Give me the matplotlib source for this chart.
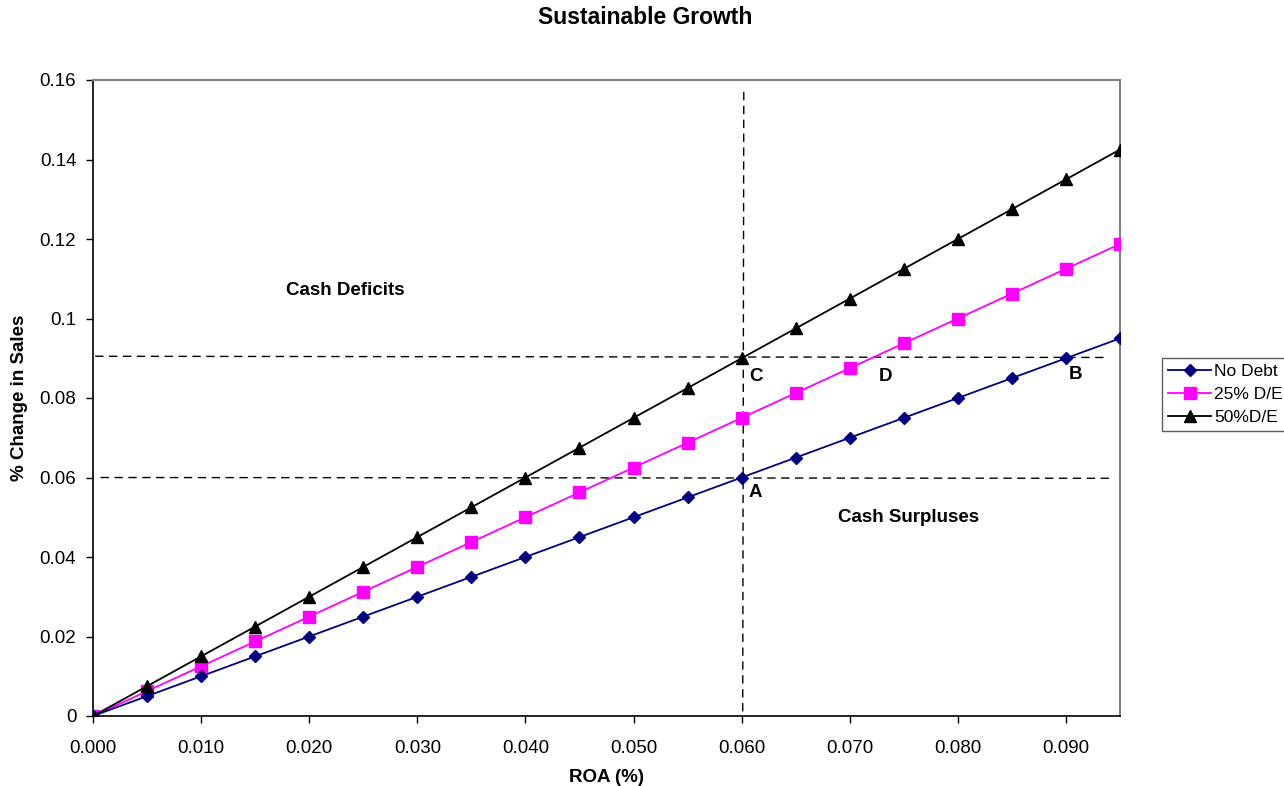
import matplotlib
matplotlib.use("Agg")
import matplotlib.pyplot as plt

plt.rcParams['font.family'] = ['Liberation Sans', 'DejaVu Sans']

roa = [0.000, 0.005, 0.010, 0.015, 0.020, 0.025, 0.030, 0.035, 0.040, 0.045,
       0.050, 0.055, 0.060, 0.065, 0.070, 0.075, 0.080, 0.085, 0.090, 0.095]
no_debt = [0.0, 0.005, 0.010, 0.015, 0.020, 0.025, 0.030, 0.035, 0.040, 0.045,
           0.050, 0.055, 0.060, 0.065, 0.070, 0.075, 0.080, 0.085, 0.090, 0.095]
de_25 = [0.0, 0.00625, 0.0125, 0.01875, 0.025, 0.03125, 0.0375, 0.04375, 0.050, 0.05625,
         0.0625, 0.06875, 0.075, 0.08125, 0.0875, 0.09375, 0.100, 0.10625, 0.1125, 0.11875]
de_50 = [0.0, 0.0075, 0.015, 0.0225, 0.030, 0.0375, 0.045, 0.0525, 0.060, 0.0675,
         0.075, 0.0825, 0.090, 0.0975, 0.105, 0.1125, 0.120, 0.1275, 0.135, 0.1425]
series_labels = ["No Debt", "25% D/E", "50%D/E"]

x_ticks = [0.000, 0.010, 0.020, 0.030, 0.040, 0.050, 0.060, 0.070, 0.080, 0.090]
y_ticks = [0, 0.02, 0.04, 0.06, 0.08, 0.1, 0.12, 0.14, 0.16]
y_tick_labels = ["0", "0.02", "0.04", "0.06", "0.08", "0.1", "0.12", "0.14", "0.16"]

fig = plt.figure(figsize=(12.84, 7.86), dpi=100)
ax = fig.add_axes([93 / 1284, 1 - 716 / 786, (1120 - 93) / 1284, (716 - 80) / 786])

ax.plot(roa, no_debt, color="#000080", marker="D", markersize=6, lw=1.3,
        label=series_labels[0], zorder=4)
ax.plot(roa, de_25, color="#ff00ff", marker="s", markersize=8, lw=1.3,
        label=series_labels[1], zorder=3)
ax.plot(roa, de_50, color="black", marker="^", markersize=8, lw=1.3,
        label=series_labels[2], zorder=5)

# Reference lines for the 6% ROA / growth targets
dash = dict(color="black", lw=1.0, dashes=(6, 4), zorder=2)
ax.plot([0.0002, 0.0937], [0.0905, 0.0902], **dash)
ax.plot([0.0007, 0.0945], [0.0600, 0.0598], **dash)
ax.plot([0.0602, 0.0601], [0.157, 0.0], **dash)

bold = dict(fontsize=13.5, fontweight="bold")
ax.text(0.0613, 0.0855, "C", ha="center", va="center", **bold)
ax.text(0.0733, 0.0855, "D", ha="center", va="center", **bold)
ax.text(0.0909, 0.0860, "B", ha="center", va="center", **bold)
ax.text(0.0613, 0.0562, "A", ha="center", va="center", **bold)
ax.text(0.0233, 0.1070, "Cash Deficits", ha="center", va="center", **bold)
ax.text(0.0754, 0.0500, "Cash Surpluses", ha="center", va="center", **bold)

ax.set_xlim(0, 0.095)
ax.set_ylim(0, 0.16)
ax.set_xticks(x_ticks)
ax.set_xticklabels([f"{v:.3f}" for v in x_ticks])
ax.set_yticks(y_ticks)
ax.set_yticklabels(y_tick_labels)
ax.tick_params(axis="both", labelsize=13.5, direction="out", length=5, width=1)
ax.tick_params(axis="x", pad=12)
ax.tick_params(axis="y", pad=7)

for side in ("top", "right"):
    ax.spines[side].set_color("#808080")
    ax.spines[side].set_linewidth(1.5)
for side in ("left", "bottom"):
    ax.spines[side].set_color("black")
    ax.spines[side].set_linewidth(1.2)

ax.set_xlabel("ROA (%)", fontsize=13.5, fontweight="bold", labelpad=9)
ax.set_ylabel("% Change in Sales", fontsize=13.5, fontweight="bold", labelpad=8)
fig.text(645 / 1284, 1 - 18 / 786, "Sustainable Growth", ha="center", va="center",
         fontsize=16.5, fontweight="bold")

leg = ax.legend(loc="upper left", bbox_to_anchor=(1162 / 1284, 1 - 358 / 786),
                bbox_transform=fig.transFigure, fontsize=12.5, frameon=True,
                fancybox=False, edgecolor="#333333", borderpad=0.35,
                handlelength=2.5, handletextpad=0.15, labelspacing=0.45,
                borderaxespad=0)
leg.get_frame().set_linewidth(1.0)

fig.savefig("out.png", dpi=100)
